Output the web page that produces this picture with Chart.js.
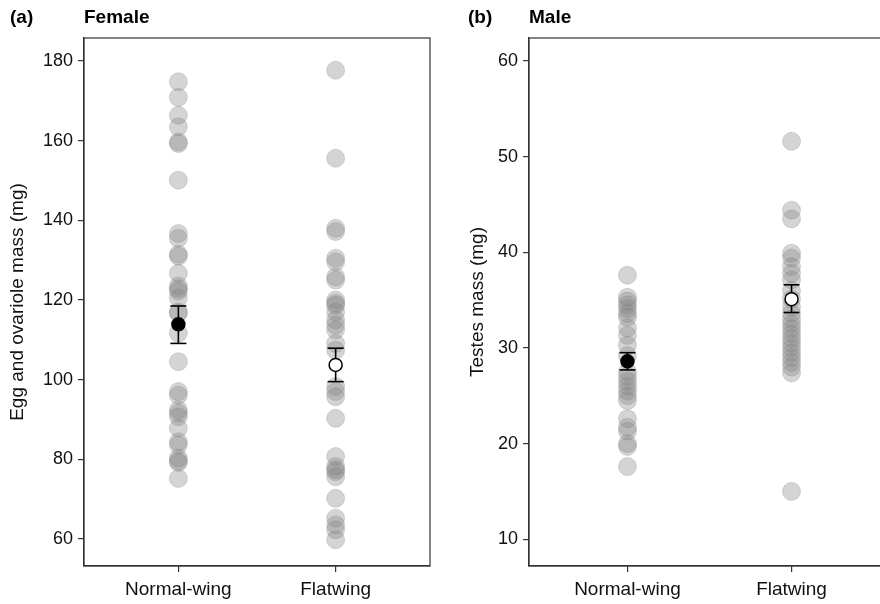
<!DOCTYPE html>
<html>
<head>
<meta charset="utf-8">
<script src="https://cdn.jsdelivr.net/npm/chart.js@4.4.1/dist/chart.umd.min.js"></script>
<style>
  html, body { margin: 0; padding: 0; background: #fff; width: 880px; height: 604px; overflow: hidden; }
  #wrap { position: relative; width: 880px; height: 604px; overflow: hidden; }
  .cv { position: absolute; top: 0; }
  .lbl { position: absolute; top: 6px; font-family: "Liberation Sans", Arial, sans-serif; font-weight: bold; font-size: 19px; color: #000; white-space: nowrap; }
</style>
</head>
<body>
<div id="wrap">
  <div class="cv" style="left:0px;width:440px;height:604px;"><canvas id="ca"></canvas></div>
  <div class="cv" style="left:460px;width:440px;height:604px;"><canvas id="cb"></canvas></div>
  <div class="lbl" style="left:10px;">(a)</div>
  <div class="lbl" style="left:84px;">Female</div>
  <div class="lbl" style="left:468px;">(b)</div>
  <div class="lbl" style="left:529px;">Male</div>
</div>
<script>
// ---------- data ----------
const categories = ["Normal-wing", "Flatwing"];

const femaleNormal = [174.8,170.9,166.4,163.5,159.7,159.3,150.1,136.7,135.5,131.5,131.0,126.7,123.5,122.8,122.2,120.5,117.0,116.7,111.7,104.5,97.0,96.1,92.4,91.6,90.7,87.8,84.4,83.6,80.3,79.6,79.2,75.2];
const femaleFlat = [177.7,155.6,138.0,137.2,130.5,129.6,125.8,125.0,120.0,118.7,117.0,119.2,115.0,113.7,112.5,109.1,107.4,98.3,97.0,95.7,90.3,80.7,78.2,77.4,76.9,75.6,70.2,65.2,63.5,62.3,59.8];
const femaleMean = [113.9, 103.7];
const femaleLow  = [109.1, 99.5];
const femaleHigh = [118.5, 107.9];
const femaleTicks = [60, 80, 100, 120, 140, 160, 180];

const maleNormal = [37.6,35.3,34.9,34.5,34.1,33.6,33.2,32.1,31.3,30.3,29.2,27.5,27.0,26.5,26.0,25.5,25.0,24.5,22.6,21.7,21.3,20.0,19.7,17.6];
const maleFlat = [51.6,44.4,43.5,39.9,39.4,38.5,37.8,37.1,36.0,35.1,34.3,33.6,33.0,32.5,32.0,31.5,31.0,30.5,30.0,29.5,29.0,28.5,28.0,27.4,15.0];
const maleMean = [28.6, 35.1];
const maleLow  = [27.7, 33.7];
const maleHigh = [29.5, 36.6];
const maleTicks = [10, 20, 30, 40, 50, 60];

// ---------- helpers ----------
const FONT = '"Liberation Sans", Arial, sans-serif';
const AX = '#333333';
const TXT = '#111111';

const boxPlugin = {
  id: 'box',
  afterDraw(chart) {
    const a = chart.chartArea, ctx = chart.ctx;
    ctx.save();
    ctx.strokeStyle = AX;
    ctx.lineWidth = 1.2;
    ctx.strokeRect(a.left, a.top, a.right - a.left, a.bottom - a.top);
    ctx.restore();
  }
};

function makeChart(id, normal, flat, mean, low, high, ticks, yMin, yMax, yTitle, yWidth) {
  const gray = 'rgba(128,128,128,0.34)';
  const grayB = 'rgba(128,128,128,0.26)';
  const datasets = [];
  // means (on top)
  datasets.push({
    type: 'scatter',
    order: 1,
    data: mean.map((v, i) => ({ x: i + 1, y: v })),
    pointRadius: 6.5,
    pointBackgroundColor: ['#000000', '#ffffff'],
    pointBorderColor: '#000000',
    pointBorderWidth: 1.5
  });
  // error bars
  mean.forEach((m, i) => {
    datasets.push({
      type: 'scatter',
      order: 2,
      showLine: true,
      data: [{ x: i + 1, y: low[i] }, { x: i + 1, y: high[i] }],
      borderColor: '#000000',
      borderWidth: 1.6,
      pointStyle: 'line',
      pointRadius: 8,
      pointBorderColor: '#000000',
      pointBorderWidth: 1.6
    });
  });
  // raw points
  [normal, flat].forEach((arr, i) => {
    datasets.push({
      type: 'scatter',
      order: 3,
      data: arr.map(v => ({ x: i + 1, y: v })),
      pointRadius: 9,
      pointBackgroundColor: gray,
      pointBorderColor: grayB,
      pointBorderWidth: 1
    });
  });

  return new Chart(document.getElementById(id), {
    type: 'scatter',
    data: { datasets },
    plugins: [boxPlugin],
    options: {
      responsive: true,
      maintainAspectRatio: false,
      animation: false,
      events: [],
      layout: { padding: { top: 38, right: 9, bottom: 0, left: 0 } },
      plugins: { legend: { display: false }, tooltip: { enabled: false } },
      scales: {
        x: {
          type: 'linear',
          min: 0.4, max: 2.6,
          afterBuildTicks: s => { s.ticks = categories.map((c, i) => ({ value: i + 1 })); },
          afterFit: s => { s.height = 38; },
          ticks: {
            callback: v => categories[Math.round(v) - 1],
            font: { family: FONT, size: 19 },
            color: TXT,
            padding: 6,
            maxRotation: 0
          },
          grid: { drawOnChartArea: false, drawTicks: true, tickLength: 6, color: AX, lineWidth: 1.2 },
          border: { display: true, color: AX, width: 1.2 }
        },
        y: {
          type: 'linear',
          min: yMin, max: yMax,
          afterBuildTicks: s => { s.ticks = ticks.map(v => ({ value: v })); },
          afterFit: s => { s.width = yWidth; },
          ticks: {
            font: { family: FONT, size: 18 },
            color: TXT,
            padding: 5
          },
          title: {
            display: true,
            text: yTitle,
            font: { family: FONT, size: 19 },
            color: TXT,
            padding: { top: 6, bottom: 0 }
          },
          grid: { drawOnChartArea: false, drawTicks: true, tickLength: 6, color: AX, lineWidth: 1.2 },
          border: { display: true, color: AX, width: 1.2 }
        }
      }
    }
  });
}

makeChart('ca', femaleNormal, femaleFlat, femaleMean, femaleLow, femaleHigh, femaleTicks, 53.2, 185.8, 'Egg and ovariole mass (mg)', 84);
makeChart('cb', maleNormal, maleFlat, maleMean, maleLow, maleHigh, maleTicks, 7.2, 62.4, 'Testes mass (mg)', 69);
</script>
</body>
</html>
